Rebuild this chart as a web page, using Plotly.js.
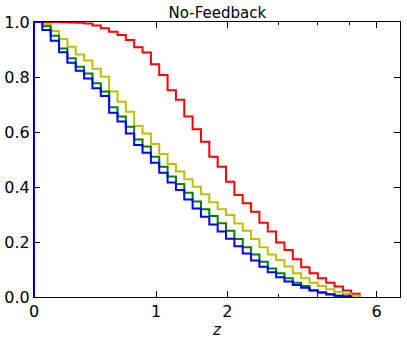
<!DOCTYPE html>
<html>
<head>
<meta charset="utf-8">
<script src="https://cdn.plot.ly/plotly-3.0.1.min.js"></script>
<style>
    html, body { margin: 0; padding: 0; background: #fff; }
    #plotly_graph { width: 407px; height: 341px; }
</style>
</head>
<body>
<div id="plotly_graph"></div>
<script>
// *********************************************************************************************
// DATA

// reverse cumulative fraction per bin, bins uniform in log10(1+z)
const LOG_BIN_WIDTH = 0.0206

const RED = [1.0, 1.0, 1.0, 0.999, 0.998, 0.997, 0.995, 0.987, 0.977, 0.965, 0.953, 0.935, 0.908,
    0.889, 0.846, 0.807, 0.752, 0.717, 0.656, 0.610, 0.565, 0.510, 0.474, 0.419, 0.371, 0.341,
    0.310, 0.270, 0.238, 0.198, 0.171, 0.137, 0.108, 0.086, 0.068, 0.052, 0.038, 0.024, 0.012]

const YELLOW = [1.0, 0.992, 0.967, 0.938, 0.910, 0.882, 0.860, 0.830, 0.801, 0.747, 0.710, 0.674,
    0.622, 0.595, 0.556, 0.520, 0.484, 0.456, 0.428, 0.401, 0.374, 0.345, 0.319, 0.298, 0.267,
    0.241, 0.211, 0.181, 0.155, 0.135, 0.111, 0.086, 0.068, 0.052, 0.040, 0.028, 0.018, 0.011, 0.005]

const GREEN = [1.0, 0.985, 0.950, 0.904, 0.868, 0.837, 0.813, 0.777, 0.747, 0.690, 0.656, 0.619,
    0.573, 0.547, 0.510, 0.474, 0.438, 0.411, 0.379, 0.347, 0.319, 0.295, 0.268, 0.241, 0.211,
    0.181, 0.155, 0.128, 0.104, 0.086, 0.068, 0.052, 0.040, 0.025, 0.016, 0.009, 0.005, 0.003]

const BLUE = [1.0, 0.971, 0.932, 0.890, 0.852, 0.823, 0.795, 0.759, 0.731, 0.670, 0.638, 0.595,
    0.553, 0.525, 0.488, 0.452, 0.416, 0.389, 0.355, 0.322, 0.292, 0.264, 0.238, 0.212, 0.185,
    0.158, 0.133, 0.110, 0.090, 0.072, 0.056, 0.044, 0.034, 0.024, 0.016, 0.010, 0.005, 0.002]

const Z_TICKS = [0, 1, 2, 6]
const Z_MINOR = [3, 4, 5]
const Z_MAX = 7


// *********************************************************************************************
// TRACES

// outline of a histtype='step' histogram, x given as 1+z on a log axis
stepTrace = (values, color) => {
    let edges = []
    for (let i = 0; i <= values.length; i++) edges.push(Math.pow(10, i * LOG_BIN_WIDTH))

    let x = [edges[0]]
    let y = [0]
    values.forEach((v, i) => { x.push(edges[i]); y.push(v) })
    x.push(edges[values.length], edges[values.length])
    y.push(values[values.length - 1], 0)

    return {
        type: 'scatter',
        mode: 'lines',
        x: x,
        y: y,
        line: { color: color, width: 2, shape: 'hv' },
        hoverinfo: 'skip',
        showlegend: false
    }
}

let data = [
    stepTrace(RED, '#ff0000'),
    stepTrace(YELLOW, '#bfbf00'),
    stepTrace(GREEN, '#008000'),
    stepTrace(BLUE, '#0000ff')
]


// *********************************************************************************************
// LAYOUT

const FONT = 'DejaVu Sans, sans-serif'

let layout = {
    width: 407,
    height: 341,
    margin: { t: 22, r: 7, b: 44, l: 34 },
    paper_bgcolor: '#fff',
    plot_bgcolor: '#fff',
    font: { family: FONT, size: 16, color: '#000' },
    title: {
        text: 'No-Feedback',
        font: { family: FONT, size: 15, color: '#000' },
        x: 0.534, xanchor: 'center',
        y: 0.962, yanchor: 'middle'
    },
    xaxis: {
        type: 'log',
        range: [0, Math.log10(1 + Z_MAX)],
        tickmode: 'array',
        tickvals: Z_TICKS.map(z => 1 + z),
        ticktext: Z_TICKS.map(z => String(z)),
        ticks: 'inside', ticklen: 6, tickwidth: 1, tickcolor: '#000',
        minor: {
            tickmode: 'array',
            tickvals: Z_MINOR.map(z => 1 + z),
            ticks: 'inside', ticklen: 3, tickwidth: 1, tickcolor: '#000',
            showgrid: false
        },
        showline: true, linecolor: '#000', linewidth: 1, mirror: 'ticks',
        showgrid: false, zeroline: false,
        tickfont: { family: FONT, size: 16 },
        title: {
            text: '<i>z</i>',
            font: { family: FONT, size: 15 },
            standoff: 4
        }
    },
    yaxis: {
        range: [0, 1],
        dtick: 0.2,
        tickformat: '.1f',
        ticks: 'inside', ticklen: 6, tickwidth: 1, tickcolor: '#000',
        showline: true, linecolor: '#000', linewidth: 1, mirror: 'ticks',
        showgrid: false, zeroline: false,
        tickfont: { family: FONT, size: 16 }
    }
}


// *********************************************************************************************
// CONFIG

const config = {
    displaylogo: false,
    displayModeBar: false,
    responsive: false,
    staticPlot: true
}


// *********************************************************************************************
// CREATE AND APPEND

Plotly.newPlot(document.getElementById('plotly_graph'), data, layout, config)
</script>
</body>
</html>
